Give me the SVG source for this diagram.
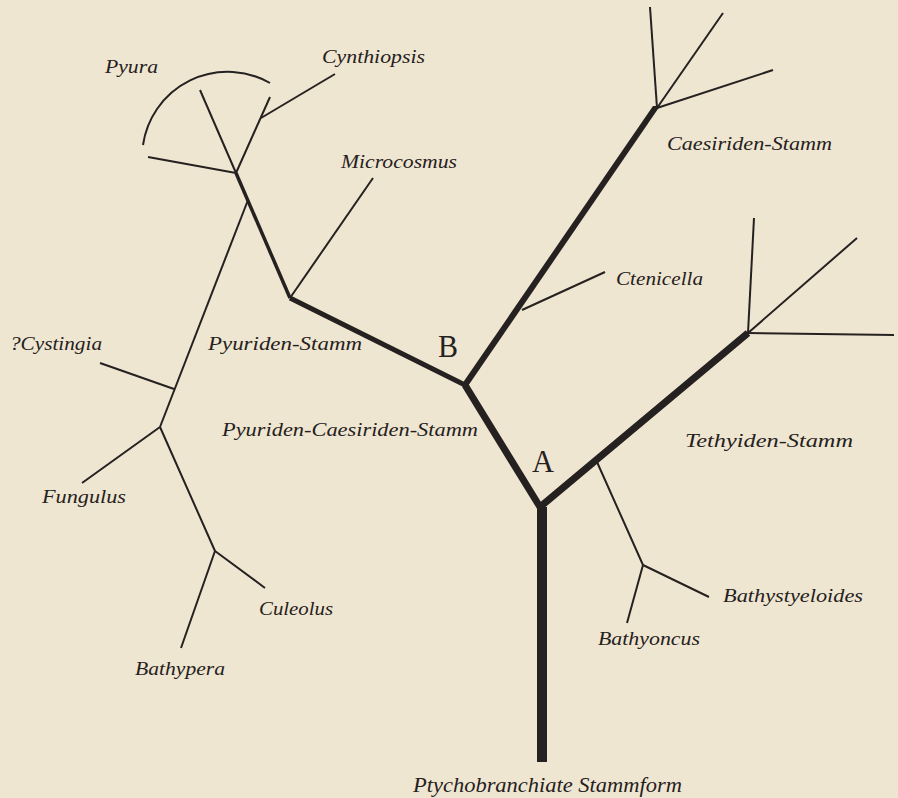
<svg xmlns="http://www.w3.org/2000/svg" width="898" height="798" viewBox="0 0 898 798">
<style>
.bg{fill:#efe6d2}
.e{fill:none;stroke:#252120;stroke-linecap:butt;stroke-linejoin:round}
.t1{stroke-width:2}
.t2{stroke-width:3.5}
.t3{stroke-width:5}
.t4{stroke-width:7}
.t5{stroke-width:10}
.lb{font-family:"Liberation Serif","DejaVu Serif",serif;font-style:italic;font-size:19px;fill:#252120}
.big{font-family:"Liberation Serif","DejaVu Serif",serif;font-size:31px;fill:#252120}
</style>
<rect class="bg" x="0" y="0" width="898" height="798"/>
<g id="connectors">
<line class="e t5" x1="542" y1="507" x2="542" y2="762"/>
<polyline class="e t4" points="465,385 540,507 748,333"/>
<polygon points="462,384 468,386 660,106 653,106" fill="#252120"/>
<line class="e t3" x1="465" y1="385" x2="290" y2="298"/>
<line class="e t2" x1="290" y1="298" x2="236" y2="173"/>
<line class="e t1" x1="236" y1="173" x2="148" y2="157"/>
<line class="e t1" x1="236" y1="173" x2="200" y2="90"/>
<line class="e t1" x1="236" y1="173" x2="270" y2="97"/>
<line class="e t1" x1="261" y1="118" x2="335" y2="74"/>
<path class="e t1" d="M143,145 A85.5,85.5 0 0 1 270,83"/>
<line class="e t1" x1="290" y1="298" x2="373" y2="178"/>
<line class="e t1" x1="248" y1="200" x2="160" y2="427"/>
<line class="e t1" x1="174" y1="389" x2="100" y2="363"/>
<line class="e t1" x1="160" y1="427" x2="82" y2="483"/>
<polyline class="e t1" points="160,427 215,551 265,588"/>
<line class="e t1" x1="215" y1="551" x2="181" y2="648"/>
<line class="e t1" x1="657" y1="108" x2="650" y2="7"/>
<line class="e t1" x1="657" y1="108" x2="723" y2="13"/>
<line class="e t1" x1="657" y1="108" x2="773" y2="70"/>
<line class="e t1" x1="522" y1="310" x2="605" y2="272"/>
<line class="e t1" x1="748" y1="333" x2="754" y2="218"/>
<line class="e t1" x1="748" y1="333" x2="857" y2="238"/>
<line class="e t1" x1="748" y1="333" x2="894" y2="335"/>
<polyline class="e t1" points="597,462 643,565 709,597"/>
<line class="e t1" x1="643" y1="565" x2="627" y2="623"/>
</g>
<g id="node-pyura"><text class="lb" x="105" y="73" textLength="53" lengthAdjust="spacingAndGlyphs">Pyura</text></g>
<g id="node-cynthiopsis"><text class="lb" x="322" y="63" textLength="103" lengthAdjust="spacingAndGlyphs">Cynthiopsis</text></g>
<g id="node-microcosmus"><text class="lb" x="341" y="168" textLength="116" lengthAdjust="spacingAndGlyphs">Microcosmus</text></g>
<g id="node-cystingia"><text class="lb" x="10" y="350" textLength="92" lengthAdjust="spacingAndGlyphs">?Cystingia</text></g>
<g id="node-pyuriden"><text class="lb" x="208" y="350" textLength="154" lengthAdjust="spacingAndGlyphs">Pyuriden-Stamm</text></g>
<g id="node-pyuriden-caesiriden"><text class="lb" x="222" y="436" textLength="256" lengthAdjust="spacingAndGlyphs">Pyuriden-Caesiriden-Stamm</text></g>
<g id="node-fungulus"><text class="lb" x="42" y="503" textLength="84" lengthAdjust="spacingAndGlyphs">Fungulus</text></g>
<g id="node-culeolus"><text class="lb" x="259" y="615" textLength="74" lengthAdjust="spacingAndGlyphs">Culeolus</text></g>
<g id="node-bathypera"><text class="lb" x="135" y="675" textLength="90" lengthAdjust="spacingAndGlyphs">Bathypera</text></g>
<g id="node-stammform"><text class="lb" x="413" y="792" textLength="269" lengthAdjust="spacingAndGlyphs" style="font-size:21px">Ptychobranchiate Stammform</text></g>
<g id="node-caesiriden"><text class="lb" x="667" y="150" textLength="165" lengthAdjust="spacingAndGlyphs">Caesiriden-Stamm</text></g>
<g id="node-ctenicella"><text class="lb" x="616" y="285" textLength="87" lengthAdjust="spacingAndGlyphs">Ctenicella</text></g>
<g id="node-B"><text class="big" x="438" y="357" textLength="20" lengthAdjust="spacingAndGlyphs">B</text></g>
<g id="node-A"><text class="big" x="532" y="472" textLength="22" lengthAdjust="spacingAndGlyphs">A</text></g>
<g id="node-tethyiden"><text class="lb" x="685" y="447" textLength="168" lengthAdjust="spacingAndGlyphs">Tethyiden-Stamm</text></g>
<g id="node-bathystyeloides"><text class="lb" x="723" y="602" textLength="140" lengthAdjust="spacingAndGlyphs">Bathystyeloides</text></g>
<g id="node-bathyoncus"><text class="lb" x="598" y="645" textLength="102" lengthAdjust="spacingAndGlyphs">Bathyoncus</text></g>
</svg>
